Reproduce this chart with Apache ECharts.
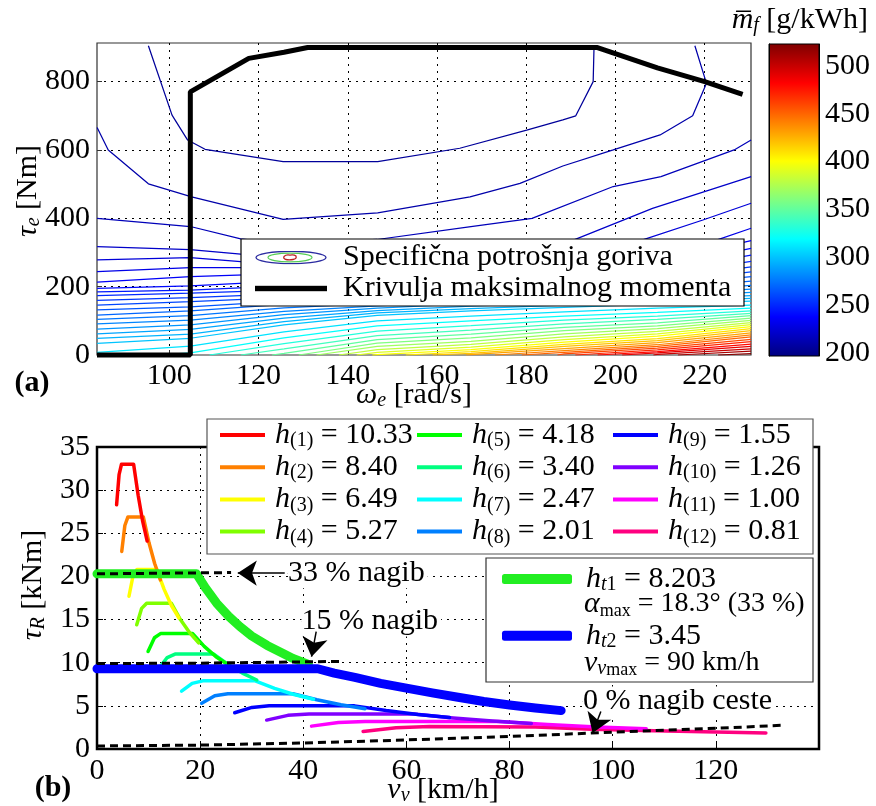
<!DOCTYPE html>
<html><head><meta charset="utf-8">
<script src="https://cdn.jsdelivr.net/npm/echarts@6/dist/echarts.min.js"></script>
<style>html,body{margin:0;padding:0;background:#fff}#c{width:876px;height:806px}</style>
</head><body><div id="c"></div>
<script>
const FONT = 'Liberation Serif';

// ---------- (a) fuel map ----------
const omegaCols = [83.8, 104.7, 125.7, 146.6, 167.6, 188.5, 209.4, 230.4];
const upperLevels = [205, 210, 215, 220, 225, 230];
const contour205 = [[95.3,905],[100.6,702],[104.1,629],[108,602],[125.5,566],[146.7,566],[165.1,605],[180.1,658],[188.2,688],[191.1,700],[195,800],[195.2,905]];
const contour210 = [[83.8,666],[86.3,600],[95.3,501],[105,463],[125.5,397],[146.7,416],[167.4,463],[178.6,502],[188.2,553],[199.5,600],[210,644],[217.3,700],[220.4,795],[217.8,905]];
const contour215 = [[83.8,400],[104.7,376],[116,340],[125.7,325],[146.6,338],[167.6,376],[181.3,400],[199.5,493],[210.2,522],[226.6,600],[230.4,629]];
const contour220 = [[83.8,317],[104.7,308],[116,295],[125.7,285],[146.6,288],[167.6,305],[190.7,337],[208.3,429],[230.4,522]];
const contour225 = [[83.8,278],[104.7,285],[116,273],[125.7,268],[146.6,266],[167.6,275],[188.5,290],[206.1,337],[219.6,395],[230.4,444]];
const contour230 = [[83.8,244],[104.7,256],[116,256],[125.7,250],[146.6,248],[167.6,254],[188.5,262],[209.4,290],[222.8,337],[230.4,371]];

const lowLevels = [235,240,245,250,255,260,265,270,275,280,285,290,295,300,310,320,330,340,350,360,370,380,390,400,410,420,430,440,450,460,470,480,490,500,510,520];
const lowStartOmega = [null,null,null,null,null,null,null,null,null,null,null,null,null,null,null,97,109,116,123,129,133,138,142,145.5,153,159,166.5,173,179,187,191,196,201.5,208.5,214,223];
const lowTorque = [
 [213,229,238,232,240,249,272,335],
 [195,202,216,218,227,237,257,312],
 [185,190,202,206,216,226,244,292],
 [174,181,190,195,206,216,232,274],
 [160,168,179,185,197,207,221,258],
 [146,156,168,176,188,198,211,243],
 [132,141,158,167,180,190,202,229],
 [117,129,148,159,172,182,193,216],
 [104,115,138,151,164,174,185,204],
 [91,102,128,144,157,167,177,193],
 [76,88,118,137,150,160,170,183],
 [62,75,108,130,143,153,163,174],
 [49,61,98,123,136,146,156,166],
 [34,49,88,116,129,139,149,158],
 [8,26,68,100,114,126,137,146],
 [null,6,50,85,100,114,125,137],
 [null,null,33,70,86,102,114,129],
 [null,null,18,57,73,91,104,122],
 [null,null,5,45,61,81,94,115],
 [null,null,null,35,50,71,85,108],
 [null,null,null,25,40,62,77,101],
 [null,null,null,16,31,53,69,95],
 [null,null,null,8,23,45,62,89],
 [null,null,null,1,16,38,55,83],
 [null,null,null,null,10,31,48,77],
 [null,null,null,null,5,25,42,71],
 [null,null,null,null,1,19,36,65],
 [null,null,null,null,null,13,30,59],
 [null,null,null,null,null,8,25,53],
 [null,null,null,null,null,3,20,46],
 [null,null,null,null,null,null,15,39],
 [null,null,null,null,null,null,10,32],
 [null,null,null,null,null,null,6,25],
 [null,null,null,null,null,null,2,18],
 [null,null,null,null,null,null,null,11],
 [null,null,null,null,null,null,null,4]
];
const maxTorqueOmega = [83.78,104.7,104.7,117.8,125.7,131,195.8,209.4,220,228.5];
const maxTorqueNm = [0,0,770,868,886,900,900,840,800,763];
const cbMin = 196.5, cbMax = 523;

// ---------- (b) traction ----------
const gear1 = [[3.8,28.3],[4.28,31.8],[4.75,33.0],[7.1,33.0],[7.98,29.4],[8.85,26.4],[9.73,24.1]];
const gear2 = [[4.8,22.9],[5.4,25.9],[6.0,26.9],[8.98,26.9],[10.08,23.9],[11.18,21.5],[12.29,19.6]];
const gear3 = [[6.2,17.7],[6.98,20.05],[7.75,20.8],[11.59,20.8],[13.02,18.5],[14.45,16.6],[15.87,15.2]];
const gear4 = [[7.7,14.4],[8.66,16.3],[9.63,16.9],[14.4,16.9],[16.17,15.0],[17.94,13.5],[19.71,12.3]];
const gear5 = [[9.9,11.3],[11.14,12.9],[12.38,13.4],[18.51,13.4],[20.79,11.9],[23.07,10.7],[25.34,9.8]];
const gear6 = [[12.1,9.4],[13.61,10.6],[15.13,11.0],[22.63,11.0],[25.41,9.8],[28.19,8.8],[30.98,8.0]];
const gear7 = [[16.4,6.7],[18.45,7.6],[20.5,7.9],[30.67,7.9],[34.44,7.03],[38.21,6.32],[41.98,5.77]];
const gear8 = [[20.3,5.3],[22.84,6.17],[25.38,6.4],[37.96,6.4],[42.63,5.7],[47.3,5.12],[51.97,4.67]];
const gear9 = [[26.7,4.2],[30.04,4.82],[33.38,5.0],[49.93,5.0],[56.07,4.45],[62.21,4.0],[68.35,3.65]];
const gear10 = [[32.9,3.35],[37.01,3.9],[41.13,4.05],[61.52,4.05],[69.09,3.6],[76.66,3.24],[84.22,2.96]];
const gear11 = [[41.6,2.65],[46.8,3.08],[52,3.2],[77.79,3.2],[87.36,2.85],[96.93,2.56],[106.5,2.34]];
const gear12 = [[51.6,2.04],[58,2.45],[64.5,2.6],[85,2.55],[96,2.3],[108,2.12],[120,1.98],[129.7,1.85]];
const gearRatioText = ['10.33','8.40','6.49','5.27','4.18','3.40','2.47','2.01','1.55','1.26','1.00','0.81'];
const ht1Curve = [[0,20.3],[19.3,20.3],[21,18.7],[23.2,16.9],[25.5,15.4],[27.7,14.2],[30,13.1],[33,12.0],[36,11.1],[38,10.5],[41,9.8]];
const ht2Curve = [[0,9.3],[42.8,9.3],[46,8.8],[50,8.3],[55,7.6],[60,7.05],[65,6.5],[70,6.0],[75,5.5],[80,5.1],[85,4.75],[90,4.45]];
const road0 = [[0,0.35],[20,0.45],[40,0.7],[60,1.05],[80,1.45],[100,1.95],[120,2.4],[133,2.75]];
const road15 = [[0,9.9],[20,9.95],[47,10.15]];
const road33 = [[0,20.3],[26,20.45]];
const annotationPos = [[37,20.37],[39.6,14.77],[94.2,5.5]];
const annotationText = ['33 % nagib','15 % nagib','0 % nagib ceste'];
const arrowFrom = [[36.4,20.37],[42.5,13.6],[97.7,4.35]];
const arrowTo = [[27.3,20.4],[41.6,10.7],[96.1,1.85]];

// ---------- styles ----------
const gearColors = ['#ff0000','#ff8000','#ffff00','#80ff00','#00ff00','#00ff80','#00ffff','#0080ff','#0000ff','#8000ff','#ff00ff','#ff0080'];
function jet(v){
  const t = (v - cbMin) / (cbMax - cbMin);
  const f = x => Math.max(0, Math.min(1, x));
  const r = f(1.5 - Math.abs(4*t - 3)), g = f(1.5 - Math.abs(4*t - 2)), b = f(1.5 - Math.abs(4*t - 1));
  return 'rgb(' + Math.round(r*255) + ',' + Math.round(g*255) + ',' + Math.round(b*255) + ')';
}
const cbStops = [];
for (let i = 0; i <= 32; i++) cbStops.push({offset: i/32, color: jet(cbMin + (cbMax - cbMin) * i / 32)});

const RICH = {
  i:{fontFamily:FONT,fontSize:30,fontStyle:'italic',lineHeight:32,color:'#000',fill:'#000'},
  n:{fontFamily:FONT,fontSize:30,lineHeight:32,color:'#000',fill:'#000'},
  n2:{fontFamily:FONT,fontSize:28,lineHeight:32,color:'#000',fill:'#000'},
  s:{fontFamily:FONT,fontSize:20,lineHeight:16,verticalAlign:'bottom',color:'#000',fill:'#000'},
  s2:{fontFamily:FONT,fontSize:18,lineHeight:16,verticalAlign:'bottom',color:'#000',fill:'#000'},
  si:{fontFamily:FONT,fontSize:20,fontStyle:'italic',lineHeight:16,verticalAlign:'bottom',color:'#000',fill:'#000'},
  b:{fontFamily:FONT,fontSize:30,fontWeight:'bold',lineHeight:32,color:'#000',fill:'#000'}
};

function svgUrl(s){ return 'image://data:image/svg+xml;charset=utf-8,' + encodeURIComponent(s); }
const contourIcon = '<svg xmlns="http://www.w3.org/2000/svg" width="72" height="14" viewBox="0 0 72 14">' +
  '<ellipse cx="36" cy="7" rx="35" ry="6.2" fill="none" stroke="#2a2aa0" stroke-width="1.3"/>' +
  '<ellipse cx="35" cy="7" rx="22" ry="4.3" fill="none" stroke="#55cc55" stroke-width="1.2"/>' +
  '<path d="M29,6 Q31,3.8 35,4.6 Q39,3.8 41,5.6 Q42,8.4 38,9 Q34,9.8 31,9 Q28,8.4 29,6 Z" fill="none" stroke="#bb2222" stroke-width="1.3"/></svg>';
const blackIcon = '<svg xmlns="http://www.w3.org/2000/svg" width="72" height="14" viewBox="0 0 72 14"><rect x="0" y="4.3" width="72" height="5.4" fill="#000"/></svg>';

const labelStyle = {color:'#000', fontFamily:FONT, fontSize:30};
const dotted = {show:true, showMinLine:false, showMaxLine:false, lineStyle:{color:'#000', width:1, type:[2,5]}};

// ---------- series ----------
const series = [];
function contourSeries(level, pts){
  const c = jet(level);
  return {type:'line', name:'Specifična potrošnja goriva', xAxisIndex:0, yAxisIndex:0, data:pts,
    symbol:'none', silent:true, lineStyle:{color:c, width:1.25}, itemStyle:{color:c}, z:2};
}
[contour205, contour210, contour215, contour220, contour225, contour230].forEach((p, i) => series.push(contourSeries(upperLevels[i], p)));
lowLevels.forEach((lv, i) => {
  const pts = [];
  if (lowStartOmega[i] !== null) pts.push([lowStartOmega[i], 0]);
  lowTorque[i].forEach((t, j) => { if (t !== null) pts.push([omegaCols[j], t]); });
  series.push(contourSeries(lv, pts));
});
series.push({type:'line', name:'Krivulja maksimalnog momenta', xAxisIndex:0, yAxisIndex:0,
  data: maxTorqueOmega.map((w, i) => [w, maxTorqueNm[i]]), symbol:'none', clip:false,
  lineStyle:{color:'#000', width:5}, itemStyle:{color:'#000'}, z:3});
series.push({type:'bar', xAxisIndex:1, yAxisIndex:1, stack:'cb', data:[cbMin], barWidth:'100%', silent:true,
  itemStyle:{color:'rgba(0,0,0,0)'}, z:-1});
series.push({type:'bar', xAxisIndex:1, yAxisIndex:1, stack:'cb', data:[cbMax - cbMin], barWidth:'100%', silent:true,
  itemStyle:{color:{type:'linear', x:0, y:1, x2:0, y2:0, colorStops:cbStops}}, z:-1});

const gears = [gear1,gear2,gear3,gear4,gear5,gear6,gear7,gear8,gear9,gear10,gear11,gear12];
for (let k = 11; k >= 0; k--) {
  series.push({type:'line', name:'h' + (k+1), xAxisIndex:2, yAxisIndex:2, data:gears[k], symbol:'none', silent:true,
    lineStyle:{color:gearColors[k], width:3.5, cap:'round', join:'round'}, itemStyle:{color:gearColors[k]}, z:2});
}
series.push({type:'line', name:'ht1', xAxisIndex:2, yAxisIndex:2, data:ht1Curve, symbol:'none', silent:true,
  lineStyle:{color:'#22ee22', width:9, cap:'round', join:'round'}, itemStyle:{color:'#22ee22'}, z:3});
series.push({type:'line', name:'ht2', xAxisIndex:2, yAxisIndex:2, data:ht2Curve, symbol:'none', silent:true,
  lineStyle:{color:'#0000ff', width:9, cap:'round', join:'round'}, itemStyle:{color:'#0000ff'}, z:3});
[road0, road15, road33].forEach(r => series.push({type:'line', name:'road', xAxisIndex:2, yAxisIndex:2, data:r,
  symbol:'none', silent:true, lineStyle:{color:'#000', width:3, type:[8,5]}, z:4}));
series.push({type:'scatter', name:'annot', xAxisIndex:2, yAxisIndex:2, symbolSize:0.5, silent:true, z:5,
  itemStyle:{color:'#000', opacity:1},
  data: annotationPos.map((p, i) => ({value:p, label:{show:true, formatter:annotationText[i]}})),
  label:{show:true, position:'right', distance:0, color:'#000', opacity:1, fontFamily:FONT, fontSize:30,
    backgroundColor:'#fff', padding:[0,3,0,0]},
  labelLayout:{hideOverlap:false},
  markLine:{silent:true, animation:false, symbol:['none','arrow'], symbolSize:19, z:6,
    lineStyle:{color:'#000', width:1.5, type:'solid', opacity:1}, itemStyle:{color:'#000'}, label:{show:false},
    data: arrowFrom.map((f, i) => [{coord:f}, {coord:arrowTo[i]}])}
});

function gearFmt(name){
  const k = parseInt(name.slice(1), 10);
  return '{i|h}{s|(' + k + ')}{n| = ' + gearRatioText[k-1] + '}';
}
function gearLegend(names, left){
  return {data:names, orient:'vertical', left:left, top:419, padding:0, itemGap:0.2, icon:'rect',
    itemWidth:45, itemHeight:4, selectedMode:false, itemStyle:{borderWidth:0},
    formatter:gearFmt, textStyle:{fontFamily:FONT, fontSize:30, lineHeight:32, color:'#000', padding:[0,0,0,5], rich:RICH}};
}

const option = {
  animation:false,
  backgroundColor:'#fff',
  grid:[
    {left:97, top:43, width:654, height:312, show:true, backgroundColor:'#fff', borderColor:'#333', borderWidth:1.2},
    {left:769, top:44, width:50, height:312, show:true, backgroundColor:'transparent', borderColor:'#000', borderWidth:1},
    {left:97, top:447, width:722, height:302, show:true, backgroundColor:'#fff', borderColor:'#000', borderWidth:2.5}
  ],
  xAxis:[
    {gridIndex:0, type:'value', min:83.78, max:230.38, splitNumber:7, axisLine:{show:false},
      axisTick:{inside:true, length:5, lineStyle:{color:'#333'}},
      axisLabel:Object.assign({margin:6, showMinLabel:false, showMaxLabel:false}, labelStyle), splitLine:dotted},
    {gridIndex:1, type:'category', data:['cb'], show:false},
    {gridIndex:2, type:'value', min:0, max:140, interval:20, axisLine:{show:false},
      axisTick:{inside:true, length:6, lineStyle:{color:'#000'}},
      axisLabel:Object.assign({margin:7, showMaxLabel:false}, labelStyle), splitLine:dotted}
  ],
  yAxis:[
    {gridIndex:0, type:'value', min:0, max:913, interval:200, axisLine:{show:false},
      axisTick:{inside:true, length:5, lineStyle:{color:'#333'}},
      axisLabel:Object.assign({margin:7, showMaxLabel:false}, labelStyle), splitLine:dotted},
    {gridIndex:1, type:'value', position:'right', min:cbMin, max:cbMax, splitNumber:6,
      axisLine:{show:true, lineStyle:{color:'#000', width:1}}, axisTick:{inside:true, length:5, lineStyle:{color:'#000'}},
      axisLabel:Object.assign({margin:6, showMinLabel:false, showMaxLabel:false}, labelStyle), splitLine:{show:false}},
    {gridIndex:2, type:'value', min:0, max:35, interval:5, axisLine:{show:false},
      axisTick:{inside:true, length:6, lineStyle:{color:'#000'}},
      axisLabel:Object.assign({margin:7}, labelStyle), splitLine:dotted},
    {gridIndex:1, type:'value', position:'left', min:cbMin, max:cbMax, splitNumber:6,
      axisLine:{show:true, lineStyle:{color:'#000', width:1}}, axisTick:{inside:true, length:5, lineStyle:{color:'#000'}},
      axisLabel:{show:false}, splitLine:{show:false}}
  ],
  legend:[
    {data:[{name:'Specifična potrošnja goriva', icon:svgUrl(contourIcon)}, {name:'Krivulja maksimalnog momenta', icon:svgUrl(blackIcon)}],
      orient:'vertical', left:255, top:242, padding:0, itemGap:0, itemWidth:72, itemHeight:14, selectedMode:false,
      textStyle:{fontFamily:FONT, fontSize:30, lineHeight:31, color:'#000', padding:[0,0,0,11]}},
    gearLegend(['h1','h2','h3','h4'], 220),
    gearLegend(['h5','h6','h7','h8'], 417),
    gearLegend(['h9','h10','h11','h12'], 613),
    {data:['ht1','ht2'], orient:'vertical', left:502, top:563, padding:0, itemGap:24.7, icon:'roundRect',
      itemWidth:70, itemHeight:10, selectedMode:false, itemStyle:{borderWidth:0},
      formatter: n => n === 'ht1' ? '{i|h}{si|t}{s|1}{n| = 8.203}' : '{i|h}{si|t}{s|2}{n| = 3.45}',
      textStyle:{fontFamily:FONT, fontSize:30, lineHeight:32, color:'#000', padding:[0,0,0,9], rich:RICH}}
  ],
  graphic:[
    {type:'rect', z:3, shape:{x:241, y:239, width:503, height:67}, style:{fill:'#fff', stroke:'#000', lineWidth:1.2}},
    {type:'rect', z:3, shape:{x:207, y:419, width:606, height:135}, style:{fill:'#fff', stroke:'#555', lineWidth:1.2}},
    {type:'rect', z:3, shape:{x:486, y:558, width:327, height:124}, style:{fill:'#fff', stroke:'#333', lineWidth:1.2}},
    {type:'text', z:10, x:584, y:604, style:{text:'{i|α}{s2|max}{n2| = 18.3° (33 %)}', rich:RICH, align:'left', verticalAlign:'middle'}},
    {type:'text', z:10, x:584, y:663, style:{text:'{i|v}{si|v}{s2|max}{n2| = 90 km/h}', rich:RICH, align:'left', verticalAlign:'middle'}},
    {type:'text', z:10, x:28, y:191, rotation:Math.PI/2, style:{text:'{i|τ}{si|e}{n| [Nm]}', rich:RICH, align:'center', verticalAlign:'middle'}},
    {type:'text', z:10, x:414, y:395, style:{text:'{i|ω}{si|e}{n| [rad/s]}', rich:RICH, align:'center', verticalAlign:'middle'}},
    {type:'text', z:10, x:33, y:585, rotation:Math.PI/2, style:{text:'{i|τ}{si|R}{n| [kNm]}', rich:RICH, align:'center', verticalAlign:'middle'}},
    {type:'text', z:10, x:443, y:790, style:{text:'{i|v}{si|v}{n| [km/h]}', rich:RICH, align:'center', verticalAlign:'middle'}},
    {type:'text', z:10, x:32, y:383, style:{text:'{b|(a)}', rich:RICH, align:'center', verticalAlign:'middle'}},
    {type:'text', z:10, x:53, y:788, style:{text:'{b|(b)}', rich:RICH, align:'center', verticalAlign:'middle'}},
    {type:'text', z:10, x:868, y:20, style:{text:'{i|m\u0305}{si|f}{n| [g/kWh]}', rich:RICH, align:'right', verticalAlign:'middle'}}
  ],
  series: series
};
const chart = echarts.init(document.getElementById('c'));
chart.setOption(option);
</script></body></html>
